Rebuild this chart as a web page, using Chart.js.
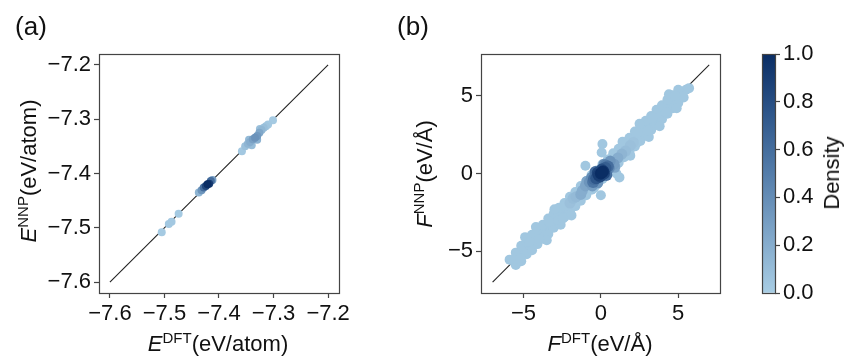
<!DOCTYPE html>
<html>
<head>
<meta charset="utf-8">
<script src="https://cdn.jsdelivr.net/npm/chart.js@4"></script>
<style>
  body { margin:0; background:#fff; width:846px; height:360px; position:relative; overflow:hidden;
         font-family:"Liberation Sans", Arial, sans-serif; color:#111; }
  canvas { position:absolute; top:0; }
  .lbl { position:absolute; font-size:22px; white-space:nowrap; transform:translate(-50%,-50%); line-height:1; }
  .rot { transform:translate(-50%,-50%) rotate(-90deg); }
  .pan { font-size:26px; }
  sup { font-size:15px; position:relative; top:-0.55em; vertical-align:baseline; }
</style>
</head>
<body>
<canvas id="chartA" width="380" height="360" style="left:0"></canvas>
<canvas id="chartB" width="400" height="360" style="left:350px"></canvas>
<canvas id="cbar" width="116" height="360" style="left:730px"></canvas>

<div class="lbl pan" style="left:31px;top:26px">(a)</div>
<div class="lbl pan" style="left:413px;top:26px">(b)</div>
<div class="lbl" style="left:218px;top:344px"><i>E</i><sup>DFT</sup>(eV/atom)</div>
<div class="lbl rot" style="left:29px;top:171px"><i>E</i><sup>NNP</sup>(eV/atom)</div>
<div class="lbl" style="left:600px;top:344px"><i>F</i><sup>DFT</sup>(eV/Å)</div>
<div class="lbl rot" style="left:425px;top:174px"><i>F</i><sup>NNP</sup>(eV/Å)</div>
<div class="lbl rot" style="left:832px;top:173px">Density</div>

<script>
// ---- data ----
var energyTicks = [-7.6, -7.5, -7.4, -7.3, -7.2];
var energyLine = [-7.6, -7.2];
var energyDFT = [-7.505, -7.492, -7.487, -7.474,
  -7.437, -7.432, -7.428, -7.424, -7.421, -7.418, -7.415, -7.412,
  -7.358, -7.352, -7.347, -7.343, -7.338, -7.334, -7.330, -7.326, -7.322, -7.318, -7.314, -7.310, -7.301,
  -7.345, -7.330, -7.325, -7.340];
var energyNNP = [-7.508, -7.493, -7.489, -7.474,
  -7.435, -7.431, -7.426, -7.423, -7.420, -7.419, -7.414, -7.412,
  -7.359, -7.350, -7.345, -7.342, -7.337, -7.334, -7.331, -7.325, -7.320, -7.316, -7.313, -7.310, -7.302,
  -7.338, -7.338, -7.318, -7.348];
var energyDensity = [0.02, 0.03, 0.03, 0.02,
  0.15, 0.35, 0.6, 0.85, 1.0, 0.9, 0.6, 0.3,
  0.03, 0.08, 0.15, 0.2, 0.28, 0.36, 0.32, 0.24, 0.14, 0.09, 0.05, 0.03, 0.02,
  0.12, 0.16, 0.08, 0.1];

var forceTicks = [-5, 0, 5];
var forceLine = [-7, 7];
var forceBandDFT = [
  -5.7, -5.35, -5.0, -4.65, -4.3, -3.95, -3.6, -3.25, -2.9, -2.55, -2.2, -1.85, -1.5, -1.15, -0.8, -0.45, -0.1,
  0.25, 0.6, 0.95, 1.3, 1.65, 2.0, 2.35, 2.7, 3.05, 3.4, 3.75, 4.1, 4.45, 4.8, 5.15, 5.5,
  -5.5, -5.15, -4.8, -4.45, -4.1, -3.75, -3.4, -3.05, -2.7, -2.35, -2.0, -1.65, -1.3, -0.95, -0.6, -0.25,
  0.1, 0.45, 0.8, 1.15, 1.5, 1.85, 2.2, 2.55, 2.9, 3.25, 3.6, 3.95, 4.3, 4.65, 5.0,
  -5.5, -5.15, -4.8, -4.45, -4.1, -3.75, -3.4, -3.05, -2.7, -2.35, -2.0, -1.65, -1.3, -0.95, -0.6, -0.25,
  0.1, 0.45, 0.8, 1.15, 1.5, 1.85, 2.2, 2.55, 2.9, 3.25, 3.6, 3.95, 4.3, 4.65, 5.0, 5.35,
  -5.9, -4.9, -4.2, -3.5, -3.0, -2.6, -1.9, 2.5, 3.1, 3.8, 4.4, 4.9, 5.3, 5.7, 1.4, 1.9,
  0.1, 0.05, -1.0, 1.0, 1.2, 0.0, -0.45,
  -5.2, -4.6, -4.0, -3.35, -2.75, -2.1, -1.4, 1.0, 1.7, 2.4, 3.0, 3.6, 4.2, 4.8,
  -1.75, -1.2, -2.35, -0.75, 0.7, 1.55, 2.3, -2.45, 3.35];
var forceBandNNP = [
  -5.6, -5.3, -5.05, -4.6, -4.35, -3.9, -3.65, -3.2, -2.95, -2.5, -2.25, -1.8, -1.55, -1.1, -0.85, -0.4, -0.15,
  0.3, 0.55, 1.0, 1.25, 1.7, 1.95, 2.4, 2.65, 3.1, 3.35, 3.8, 4.05, 4.5, 4.75, 5.2, 5.4,
  -5.1, -4.65, -4.4, -3.95, -3.6, -3.3, -2.9, -2.6, -2.2, -1.9, -1.5, -1.2, -0.8, -0.5, -0.1, 0.2,
  0.6, 0.9, 1.3, 1.6, 2.0, 2.3, 2.7, 3.0, 3.4, 3.7, 4.1, 4.4, 4.75, 5.05, 5.4,
  -5.9, -5.65, -5.2, -4.95, -4.55, -4.2, -3.9, -3.5, -3.15, -2.8, -2.45, -2.1, -1.75, -1.4, -1.05, -0.7,
  -0.35, 0.0, 0.35, 0.7, 1.05, 1.4, 1.75, 2.1, 2.45, 2.8, 3.15, 3.5, 3.85, 4.2, 4.55, 4.9,
  -5.55, -4.1, -3.45, -4.3, -2.3, -3.3, -2.7, 3.2, 2.35, 3.05, 5.1, 4.2, 4.95, 5.5, 2.05, 1.15,
  1.9, 1.35, 0.5, 0.0, -0.25, -1.4, -0.95,
  -5.45, -4.4, -4.25, -3.1, -3.0, -1.85, -1.65, 1.2, 1.45, 2.65, 2.75, 3.85, 3.95, 5.0,
  -2.0, -1.0, -2.1, -1.0, 1.0, 1.3, 1.95, -2.9, 3.6];
var forceBandDensity = 0.04;
var forceHaloDFT = [-1.6, -1.3, -1.0, -1.2, -0.75, -0.55, -0.3, -0.6, 0.4, 0.6, 0.85, 0.55, 1.1, 1.35, 1.6, 0.3,
  -2.0, -1.8, 1.9, 2.1, -0.9, 0.9, -0.2, 0.2];
var forceHaloNNP = [-1.5, -1.35, -0.8, -1.1, -0.55, -0.8, -0.1, -0.25, 0.2, 0.8, 0.6, 0.35, 1.0, 1.25, 1.45, 0.55,
  -1.9, -1.6, 1.8, 2.0, -0.5, 0.4, -0.6, 0.6];
var forceHaloDensity = [0.12, 0.2, 0.25, 0.2, 0.35, 0.3, 0.45, 0.4, 0.45, 0.35, 0.3, 0.4, 0.2, 0.15, 0.1, 0.5,
  0.08, 0.1, 0.08, 0.06, 0.25, 0.25, 0.35, 0.4];
var forceCoreDFT = [-0.45, -0.3, -0.15, 0.0, 0.15, 0.3, -0.2, 0.2, 0.05, -0.05, 0.1, -0.5, 0.45, -0.35, 0.35];
var forceCoreNNP = [-0.35, -0.3, -0.1, 0.0, 0.15, 0.35, 0.05, 0.0, 0.25, -0.2, 0.1, -0.55, 0.45, 0.1, -0.1];
var forceCoreDensity = [0.6, 0.75, 0.9, 1.0, 0.95, 0.7, 0.85, 0.85, 0.8, 0.85, 1.0, 0.55, 0.6, 0.6, 0.6];

var densityTicks = [0, 0.2, 0.4, 0.6, 0.8, 1.0];

// ---- colour map (light blue -> navy) ----
var cmap = [[0, [168, 205, 228]], [0.25, [126, 165, 200]], [0.5, [84, 125, 170]], [0.75, [46, 86, 138]], [1, [10, 45, 100]]];
function densColor(d) {
  for (var i = 1; i < cmap.length; i++) {
    if (d <= cmap[i][0]) {
      var a = cmap[i-1], b = cmap[i], t = (d - a[0]) / (b[0] - a[0]);
      var c = a[1].map(function(v, k){ return Math.round(v + (b[1][k] - v) * t); });
      return 'rgb(' + c.join(',') + ')';
    }
  }
  return 'rgb(' + cmap[cmap.length-1][1].join(',') + ')';
}

Chart.defaults.font.family = '"Liberation Sans", Arial, sans-serif';
Chart.defaults.font.size = 22;
Chart.defaults.color = '#111';

var frame = {
  id: 'frame',
  afterDatasetsDraw: function(chart) {
    var a = chart.chartArea, c = chart.ctx;
    c.save();
    c.strokeStyle = '#444';
    c.lineWidth = 1.2;
    c.strokeRect(Math.round(a.left) + 0.5, Math.round(a.top) + 0.5, Math.round(a.right - a.left), Math.round(a.bottom - a.top));
    c.restore();
  }
};

function minus(s) { return String(s).replace('-', '\u2212'); }

function axis(pos, min, max, tickVals, fmt, size) {
  return {
    type: 'linear', position: pos, min: min, max: max,
    grid: { display: true, drawOnChartArea: false, drawTicks: true, tickLength: 5, color: '#444', tickColor: '#444', tickWidth: 1.2 },
    border: { display: false },
    ticks: { padding: 3, autoSkip: false, maxRotation: 0, callback: fmt },
    afterBuildTicks: function(s) { s.ticks = tickVals.map(function(v){ return { value: v }; }); },
    afterFit: function(s) {
      if (pos === 'left' || pos === 'right') s.width = size; else s.height = size;
    }
  };
}

function sortedScatter(xs, ys, dens, order, radius) {
  var idx = xs.map(function(_, i){ return i; });
  idx.sort(function(a, b){ return dens[a] - dens[b]; });
  return {
    type: 'scatter', order: order,
    data: idx.map(function(i){ return { x: xs[i], y: ys[i] }; }),
    backgroundColor: idx.map(function(i){ return densColor(dens[i]); }),
    pointRadius: radius, borderWidth: 0
  };
}

function diag(ends) {
  return {
    type: 'line', order: 10,
    data: ends.map(function(v){ return { x: v, y: v }; }),
    borderColor: '#222', borderWidth: 1.1, pointRadius: 0, fill: false
  };
}

var common = {
  responsive: false, animation: false, events: [],
  plugins: { legend: { display: false }, tooltip: { enabled: false } }
};

// (a) energy parity
new Chart(document.getElementById('chartA'), {
  type: 'scatter',
  data: { datasets: [
    sortedScatter(energyDFT, energyNNP, energyDensity, 1, 4),
    diag(energyLine)
  ]},
  options: Object.assign({}, common, {
    layout: { padding: { top: 54, right: 41, left: 0, bottom: 0 } },
    scales: {
      x: axis('bottom', -7.62, -7.18, energyTicks, function(v){ return minus(v.toFixed(1)); }, 67),
      y: axis('left', -7.62, -7.18, energyTicks, function(v){ return minus(v.toFixed(1)); }, 99)
    }
  }),
  plugins: [frame]
});

// (b) force parity
var bandDens = forceBandDFT.map(function(){ return forceBandDensity; });
new Chart(document.getElementById('chartB'), {
  type: 'scatter',
  data: { datasets: [
    sortedScatter(forceCoreDFT, forceCoreNNP, forceCoreDensity, 1, 6),
    sortedScatter(forceHaloDFT, forceHaloNNP, forceHaloDensity, 2, 5.5),
    sortedScatter(forceBandDFT, forceBandNNP, bandDens, 3, 5),
    diag(forceLine)
  ]},
  options: Object.assign({}, common, {
    layout: { padding: { top: 54, right: 30, left: 0, bottom: 0 } },
    scales: {
      x: axis('bottom', -7.75, 7.7, forceTicks, function(v){ return minus(v); }, 67),
      y: axis('left', -7.7, 7.7, forceTicks, function(v){ return minus(v); }, 131)
    }
  }),
  plugins: [frame]
});

// colour bar
new Chart(document.getElementById('cbar'), {
  type: 'bar',
  data: { labels: ['Density'], datasets: [{
    data: [1], barPercentage: 1, categoryPercentage: 1, borderWidth: 0,
    backgroundColor: function(ctx) {
      var a = ctx.chart.chartArea;
      if (!a) return null;
      var g = ctx.chart.ctx.createLinearGradient(0, a.bottom, 0, a.top);
      cmap.forEach(function(s){ g.addColorStop(s[0], 'rgb(' + s[1].join(',') + ')'); });
      return g;
    }
  }]},
  options: Object.assign({}, common, {
    layout: { padding: { top: 54, right: 0, left: 32, bottom: 67 } },
    scales: {
      x: { display: false },
      y: axis('right', 0, 1, densityTicks, function(v){ return v.toFixed(1); }, 71)
    }
  }),
  plugins: [frame]
});
</script>
</body>
</html>
